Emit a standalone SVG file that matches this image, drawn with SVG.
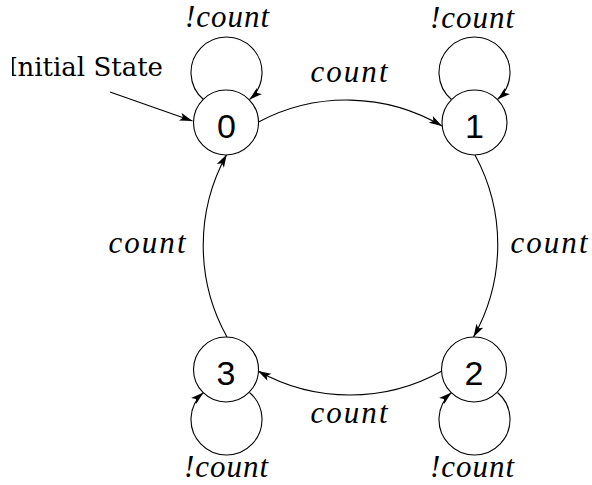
<svg xmlns="http://www.w3.org/2000/svg" width="592" height="485" viewBox="0 0 592 485">
<style>
.node circle{fill:#fff;stroke:#000;stroke-width:1.1}
.num{font-family:"Liberation Sans",Arial,sans-serif;font-size:34px;text-anchor:middle;fill:#000}
.lbl{font-family:"Liberation Serif","Times New Roman",serif;font-style:italic;font-size:31px;text-anchor:middle;fill:#000}
.edge{fill:none;stroke:#000;stroke-width:1.1;marker-end:url(#ah)}
</style>
<defs>
<marker id="ah" markerUnits="userSpaceOnUse" markerWidth="14" markerHeight="10" refX="13" refY="4" orient="auto">
<path d="M0,0 L13,4 L0,8 L3,4 z" fill="#000"/>
</marker>
<clipPath id="clipL"><rect x="12" y="0" width="200" height="100"/></clipPath>
</defs>
<g id="connectors">
<path class="edge" d="M110,92 L192.5,121"/>
<path class="edge" d="M258.5,122 A188,188 0 0 1 442,126"/>
<path class="edge" d="M475,155 A188,188 0 0 1 473.5,337"/>
<path class="edge" d="M442,371 A188,188 0 0 1 258,371"/>
<path class="edge" d="M227,337 A188,188 0 0 1 226.7,154.5"/>
<path class="edge" d="M203.5,99.5 A35.5,35.5 0 1 1 249.5,99.5"/>
<path class="edge" d="M451.5,99.5 A35.5,35.5 0 1 1 497.5,99.5"/>
<path class="edge" d="M249.5,392.5 A35.5,35.5 0 1 1 203.5,392.5"/>
<path class="edge" d="M497.5,392.5 A35.5,35.5 0 1 1 451.5,392.5"/>
</g>
<g id="node0" class="node"><circle cx="226" cy="122.5" r="32.5"/><text class="num" x="226.5" y="138">0</text></g>
<g id="node1" class="node"><circle cx="474.5" cy="122.5" r="32.5"/><text class="num" x="474.5" y="138">1</text></g>
<g id="node2" class="node"><circle cx="474" cy="369.5" r="32.5"/><text class="num" x="474" y="385">2</text></g>
<g id="node3" class="node"><circle cx="226" cy="369.5" r="32.5"/><text class="num" x="226" y="385">3</text></g>
<g id="labels">
<text x="163" y="76" clip-path="url(#clipL)" style="font-family:'DejaVu Serif',serif;font-size:26px;text-anchor:end">Initial State</text>
<text class="lbl" x="227" y="27" textLength="84">!count</text>
<text class="lbl" x="472" y="28" textLength="84">!count</text>
<text class="lbl" x="349" y="82" textLength="77">count</text>
<text class="lbl" x="147" y="253" textLength="77">count</text>
<text class="lbl" x="549" y="253" textLength="77">count</text>
<text class="lbl" x="349" y="423" textLength="77">count</text>
<text class="lbl" x="226" y="477" textLength="84">!count</text>
<text class="lbl" x="472" y="477" textLength="84">!count</text>
</g>
</svg>
